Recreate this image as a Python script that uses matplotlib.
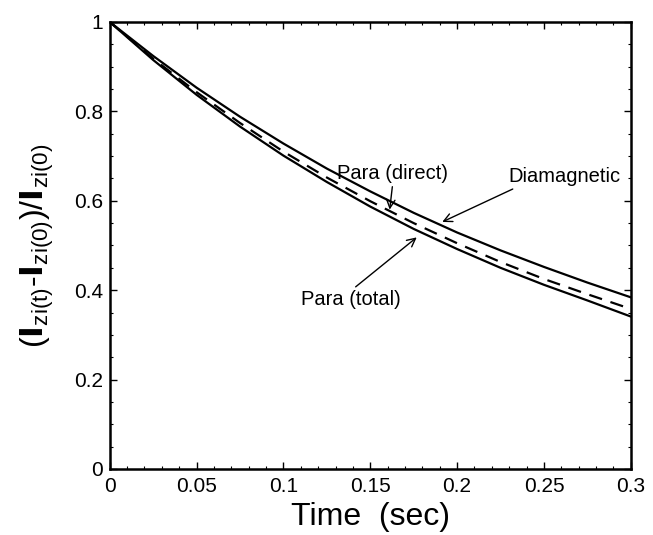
import numpy as np
import matplotlib.pyplot as plt
from matplotlib.ticker import MultipleLocator

plt.rcParams['font.family'] = ['Liberation Sans', 'DejaVu Sans']
plt.rcParams['mathtext.default'] = 'regular'

# Data ----------------------------------------------------------------------
temps = [0.0, 0.025, 0.05, 0.075, 0.1, 0.125, 0.15, 0.175, 0.2, 0.225, 0.25, 0.275, 0.3]

diamagnetic = [1.0, 0.924, 0.853, 0.788, 0.728, 0.672, 0.621, 0.573, 0.529, 0.489, 0.452, 0.417, 0.384]
para_direct = [1.0, 0.918, 0.843, 0.774, 0.710, 0.652, 0.599, 0.550, 0.505, 0.463, 0.425, 0.391, 0.358]
para_total = [1.0, 0.915, 0.837, 0.766, 0.701, 0.642, 0.587, 0.537, 0.492, 0.450, 0.412, 0.377, 0.341]

xticks = [0, 0.05, 0.1, 0.15, 0.2, 0.25, 0.3]
xlabels = ["0", "0.05", "0.1", "0.15", "0.2", "0.25", "0.3"]
yticks = [0, 0.2, 0.4, 0.6, 0.8, 1]
ylabels = ["0", "0.2", "0.4", "0.6", "0.8", "1"]

# Figure --------------------------------------------------------------------
fig = plt.figure(figsize=(6.53, 5.35), dpi=100)
ax = fig.add_axes([0.168, 0.1234, 0.798, 0.8356])

ax.plot(temps, diamagnetic, color='black', lw=1.6)
ax.plot(temps, para_direct, color='black', lw=1.6, dashes=(6, 4))
ax.plot(temps, para_total, color='black', lw=1.6)

ax.set_xlim(0, 0.3)
ax.set_ylim(0, 1)
ax.set_xticks(xticks)
ax.set_xticklabels(xlabels)
ax.set_yticks(yticks)
ax.set_yticklabels(ylabels)
ax.xaxis.set_minor_locator(MultipleLocator(0.01))
ax.yaxis.set_minor_locator(MultipleLocator(0.05))
ax.tick_params(which='both', direction='in', top=True, right=True, labelsize=15)
ax.tick_params(axis='x', pad=6)
ax.tick_params(axis='y', pad=5)
ax.tick_params(which='major', length=5, width=1)
ax.tick_params(which='minor', length=2.5, width=0.8)
for s in ax.spines.values():
    s.set_linewidth(1.8)

ax.set_xlabel("Time  (sec)", fontsize=23, labelpad=4)
ax.set_ylabel(r"($\mathbf{I}_{zi(t)}$-$\mathbf{I}_{zi(0)}$)/$\mathbf{I}_{zi(0)}$", fontsize=23, labelpad=13)

# annotations
fleche = dict(arrowstyle='->', color='black', lw=1, mutation_scale=15)
ax.annotate("Diamagnetic", xy=(0.190, 0.550), xytext=(0.262, 0.655),
            ha='center', va='center', fontsize=14.5, arrowprops=dict(fleche, shrinkA=1, relpos=(0.1, 0)))
ax.annotate("Para (direct)", xy=(0.161, 0.574), xytext=(0.163, 0.662),
            ha='center', va='center', fontsize=14.5, arrowprops=dict(fleche, shrinkA=1, relpos=(0.5, 0)))
ax.annotate("Para (total)", xy=(0.178, 0.522), xytext=(0.139, 0.378),
            ha='center', va='center', fontsize=14.5, arrowprops=dict(fleche, shrinkA=1, relpos=(0.5, 1)))

fig.savefig("out.png", dpi=100)
